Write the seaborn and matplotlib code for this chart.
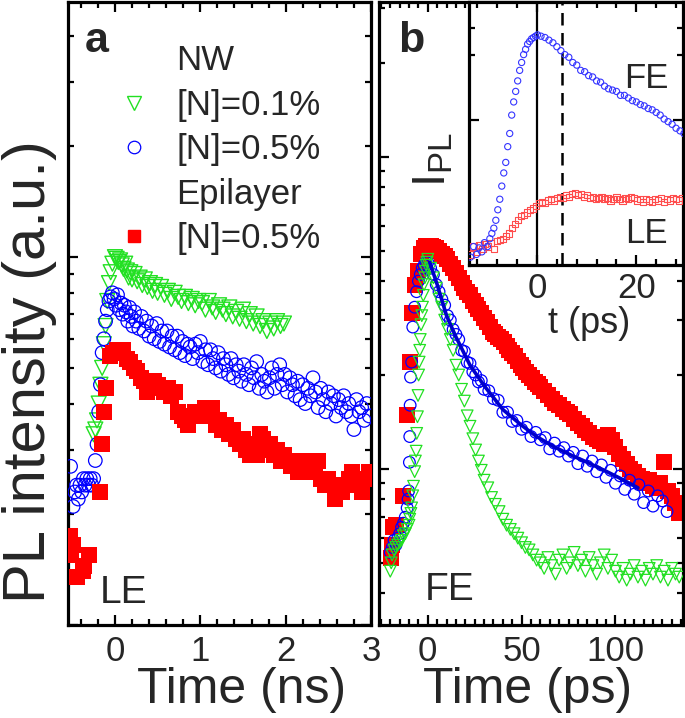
import numpy as np
import matplotlib
matplotlib.use('Agg')
import matplotlib.pyplot as plt
from matplotlib.lines import Line2D
from matplotlib.ticker import MultipleLocator, LogLocator, NullFormatter, FixedLocator
import seaborn as sns

# ---- panel a: time in ns ----
nw01_a_x = [-0.25, -0.23, -0.21, -0.19, -0.17, -0.15, -0.13, -0.11, -0.09, -0.07,
            -0.05, -0.03, 0.00, 0.02, 0.04, 0.06, 0.08, 0.10, 0.12, 0.14,
            0.16, 0.18, 0.20, 0.23, 0.26, 0.29, 0.32, 0.35, 0.38, 0.41,
            0.44, 0.47, 0.50, 0.54, 0.58, 0.62, 0.66, 0.70, 0.74, 0.78,
            0.82, 0.86, 0.90, 0.94, 0.98, 1.02, 1.06, 1.10, 1.14, 1.18,
            1.22, 1.26, 1.30, 1.34, 1.38, 1.42, 1.46, 1.50, 1.54, 1.58,
            1.62, 1.66, 1.70, 1.74, 1.78, 1.82, 1.86, 1.90, 1.94, 1.98]
nw01_a_y = [0.33, 0.34, 0.36, 0.40, 0.45, 0.50, 0.58, 0.65, 0.76, 0.85,
            0.91, 0.96, 1.00, 0.99, 0.97, 0.98, 0.95, 0.93, 0.96, 0.92,
            0.88, 0.91, 0.87, 0.90, 0.86, 0.88, 0.84, 0.87, 0.83, 0.85,
            0.81, 0.84, 0.80, 0.83, 0.79, 0.81, 0.77, 0.80, 0.78, 0.76,
            0.78, 0.75, 0.77, 0.74, 0.76, 0.75, 0.72, 0.76, 0.73, 0.71,
            0.74, 0.72, 0.70, 0.73, 0.69, 0.71, 0.68, 0.72, 0.67, 0.70,
            0.66, 0.69, 0.65, 0.67, 0.63, 0.66, 0.64, 0.67, 0.65, 0.66]

nw05_a_x = [-0.52, -0.49, -0.47, -0.45, -0.43, -0.41, -0.39, -0.37, -0.35, -0.33,
            -0.31, -0.29, -0.27, -0.25, -0.23, -0.21, -0.19, -0.17, -0.15, -0.13,
            -0.11, -0.09, -0.07, -0.05, -0.03, -0.01, 0.01, 0.03, 0.05, 0.07,
            0.09, 0.11, 0.13, 0.15, 0.17, 0.19, 0.21, 0.23, 0.25, 0.28,
            0.31, 0.34, 0.37, 0.40, 0.43, 0.46, 0.49, 0.52, 0.55, 0.58,
            0.61, 0.64, 0.67, 0.70, 0.73, 0.76, 0.79, 0.82, 0.85, 0.88,
            0.91, 0.94, 0.97, 1.00, 1.03, 1.06, 1.09, 1.12, 1.15, 1.18,
            1.21, 1.24, 1.27, 1.30, 1.33, 1.36, 1.39, 1.42, 1.45, 1.48,
            1.51, 1.54, 1.57, 1.60, 1.63, 1.66, 1.69, 1.72, 1.75, 1.78,
            1.81, 1.84, 1.87, 1.90, 1.93, 1.96, 1.99, 2.02, 2.05, 2.08,
            2.11, 2.14, 2.17, 2.20, 2.23, 2.26, 2.29, 2.32, 2.35, 2.38,
            2.41, 2.44, 2.47, 2.50, 2.53, 2.56, 2.59, 2.62, 2.65, 2.68,
            2.71, 2.74, 2.77, 2.80, 2.83, 2.86, 2.89, 2.92, 2.95, 2.98]
nw05_a_y = [0.27, 0.21, 0.23, 0.24, 0.22, 0.24, 0.23, 0.25, 0.24, 0.25,
            0.24, 0.25, 0.24, 0.25, 0.28, 0.31, 0.38, 0.45, 0.55, 0.60,
            0.67, 0.72, 0.76, 0.78, 0.80, 0.77, 0.74, 0.79, 0.72, 0.75,
            0.70, 0.74, 0.71, 0.67, 0.73, 0.69, 0.65, 0.71, 0.67, 0.64,
            0.69, 0.63, 0.67, 0.61, 0.65, 0.60, 0.66, 0.59, 0.63, 0.58,
            0.63, 0.57, 0.61, 0.56, 0.61, 0.55, 0.59, 0.54, 0.58, 0.57,
            0.53, 0.58, 0.55, 0.59, 0.52, 0.56, 0.51, 0.56, 0.53, 0.50,
            0.55, 0.49, 0.53, 0.51, 0.48, 0.53, 0.47, 0.51, 0.49, 0.46,
            0.51, 0.48, 0.45, 0.50, 0.47, 0.52, 0.44, 0.48, 0.46, 0.43,
            0.47, 0.50, 0.44, 0.48, 0.51, 0.45, 0.48, 0.43, 0.47, 0.45,
            0.42, 0.46, 0.41, 0.45, 0.40, 0.44, 0.42, 0.47, 0.43, 0.39,
            0.44, 0.41, 0.38, 0.43, 0.40, 0.42, 0.37, 0.41, 0.39, 0.42,
            0.38, 0.40, 0.37, 0.34, 0.41, 0.38, 0.39, 0.36, 0.40, 0.37]

epi_a_x = [-0.53, -0.49, -0.52, -0.44, -0.38, -0.36, -0.30, -0.18, -0.15, -0.13,
           -0.10, -0.06, -0.02, 0.02, 0.06, 0.10, 0.14, 0.18, 0.22, 0.26,
           0.30, 0.34, 0.38, 0.42, 0.46, 0.50, 0.54, 0.58, 0.62, 0.66,
           0.70, 0.74, 0.78, 0.82, 0.86, 0.90, 0.94, 0.98, 1.02, 1.06,
           1.10, 1.14, 1.18, 1.22, 1.26, 1.30, 1.34, 1.38, 1.42, 1.46,
           1.50, 1.54, 1.58, 1.62, 1.66, 1.70, 1.74, 1.78, 1.82, 1.86,
           1.90, 1.94, 1.98, 2.02, 2.06, 2.10, 2.14, 2.18, 2.22, 2.26,
           2.30, 2.34, 2.38, 2.42, 2.46, 2.50, 2.54, 2.58, 2.62, 2.66,
           2.70, 2.74, 2.78, 2.82, 2.86, 2.90, 2.94, 2.98]
epi_a_y = [0.175, 0.165, 0.155, 0.135, 0.14, 0.145, 0.155, 0.23, 0.31, 0.38,
           0.44, 0.54, 0.55, 0.56, 0.55, 0.56, 0.53, 0.52, 0.50, 0.49,
           0.47, 0.46, 0.43, 0.45, 0.46, 0.45, 0.44, 0.43, 0.44, 0.42,
           0.43, 0.38, 0.37, 0.36, 0.35, 0.37, 0.38, 0.37, 0.38, 0.39,
           0.37, 0.39, 0.35, 0.36, 0.34, 0.35, 0.33, 0.34, 0.32, 0.31,
           0.32, 0.30, 0.29, 0.31, 0.29, 0.33, 0.32, 0.30, 0.31, 0.29,
           0.30, 0.28, 0.29, 0.28, 0.27, 0.28, 0.26, 0.27, 0.26, 0.28,
           0.27, 0.26, 0.28, 0.25, 0.24, 0.25, 0.24, 0.22, 0.24, 0.23,
           0.24, 0.25, 0.26, 0.25, 0.24, 0.23, 0.25, 0.26]

# ---- panel b: time in ps ----
nw01_b_x = [-20, -19.5, -19, -18, -17, -16, -15, -14, -13, -12,
            -11, -10, -9.6, -9, -8.6, -8, -7.6, -7, -6.6, -6.2,
            -5.9, -5.5, -5.2, -4.9, -4.6, -4.3, -4.0, -3.6, -3.2, -2.8,
            -2.4, -2.0, -1.6, -1.2, -0.8, -0.4,
            0, 1.5, 3, 4.5, 6, 7.5, 9, 10.5, 12, 13.5,
            15, 16.5, 18, 19.5, 21, 22.5, 24, 25.5, 27, 28.5,
            30, 32, 34, 36, 38, 40, 42, 44, 46, 48,
            50, 52, 54, 56, 58, 60,
            62, 64, 66, 68, 70, 72, 74, 76, 78, 80,
            82, 84, 86, 88, 90, 92, 94, 96, 98, 100,
            102, 104, 106, 108, 110, 112, 114, 116, 118, 120,
            122, 124, 126, 128, 130, 132, 134]
nw01_b_y = [0.047, 0.050, 0.053, 0.055, 0.056, 0.057, 0.058, 0.059, 0.061, 0.062,
            0.064, 0.066, 0.069, 0.072, 0.075, 0.082, 0.088, 0.098, 0.106, 0.114,
            0.130, 0.147, 0.172, 0.20, 0.22, 0.24, 0.26, 0.29, 0.31, 0.33,
            0.36, 0.39, 0.41, 0.43, 0.45, 0.46,
            0.47, 0.44, 0.41, 0.38, 0.35, 0.33, 0.30, 0.28, 0.26, 0.24,
            0.215, 0.20, 0.18, 0.165, 0.148, 0.137, 0.125, 0.115, 0.106, 0.099,
            0.092, 0.087, 0.081, 0.077, 0.073, 0.069, 0.066, 0.064, 0.062, 0.060,
            0.058, 0.056, 0.055, 0.053, 0.051, 0.050,
            0.048, 0.052, 0.049, 0.046, 0.051, 0.053, 0.048, 0.050, 0.054, 0.049,
            0.051, 0.047, 0.052, 0.049, 0.046, 0.050, 0.053, 0.048, 0.051, 0.047,
            0.045, 0.048, 0.044, 0.046, 0.049, 0.045, 0.047, 0.044, 0.048, 0.046,
            0.049, 0.045, 0.047, 0.044, 0.048, 0.046, 0.045]

nw05_b_x = [-20, -19, -18, -17, -16, -15, -14, -13, -12, -11,
            -10.5, -10.2, -9.8, -9.6, -9.4, -9.2, -8.6, -8, -7, -6,
            -5, -4, -3, -2, -1,
            0, 1.5, 3, 4.5, 6, 7.5, 9, 10.5, 12, 13.5,
            15, 16.5, 18, 19.5, 21, 22.5, 24, 25.5, 27, 28.5,
            30, 32.5, 35, 37.5, 40, 42.5, 45, 47.5, 50, 52.5,
            55, 57.5, 60, 62.5, 65, 67.5, 70, 72.5, 75, 77.5,
            80, 82.5, 85, 87.5, 90, 92.5, 95, 97.5, 100, 102.5,
            105, 107.5, 110, 112.5, 115, 117.5, 120, 122.5, 125, 127.5]
nw05_b_y = [0.054, 0.056, 0.059, 0.057, 0.060, 0.062, 0.065, 0.067, 0.070, 0.075,
            0.080, 0.085, 0.105, 0.127, 0.160, 0.197, 0.22, 0.285, 0.33, 0.37,
            0.40, 0.42, 0.44, 0.45, 0.46,
            0.46, 0.44, 0.42, 0.39, 0.37, 0.35, 0.335, 0.31, 0.30, 0.28,
            0.27, 0.26, 0.24, 0.238, 0.22, 0.218, 0.205, 0.20, 0.19, 0.192,
            0.18, 0.178, 0.168, 0.166, 0.152, 0.152, 0.142, 0.143, 0.134, 0.136,
            0.127, 0.131, 0.124, 0.126, 0.116, 0.121, 0.114, 0.117, 0.110, 0.113,
            0.104, 0.110, 0.102, 0.106, 0.098, 0.103, 0.094, 0.099, 0.090, 0.095,
            0.086, 0.092, 0.083, 0.089, 0.078, 0.085, 0.076, 0.082, 0.079, 0.073]

fit_b_x = [1, 5, 10, 15, 22.5, 30, 40, 50, 58, 67, 76, 85, 94, 103, 112]
fit_b_y = [0.46, 0.39, 0.31, 0.265, 0.215, 0.185, 0.155, 0.138, 0.127, 0.118,
           0.111, 0.105, 0.099, 0.093, 0.087]

epi_b_x = [-19.4, -19.0, -18.4, -16.8, -13.4, -11.2, -9.6, -8.6, -7.0, -5.3,
           -3.5, -2.0, -1, 0, 1.5, 3, 4.5, 6, 7.5, 9,
           10.5, 12, 13.5, 15, 16.5, 18, 19.5, 21, 22.5, 24,
           25.5, 27, 28.5, 30, 31.5, 33, 34.5, 36, 37.5, 39,
           40.5, 42, 43.5, 45, 46.5, 48, 49.5, 51, 52.5, 54,
           55.5, 57, 58.5, 60, 62, 64, 66, 68, 70, 72,
           74, 76, 78, 80, 82, 84, 86, 88, 90, 92,
           94, 96, 98, 100, 102, 104, 106, 108, 110, 112,
           114, 116, 118, 120, 122, 124, 126, 128, 130, 132, 134]
epi_b_y = [0.052, 0.057, 0.065, 0.066, 0.082, 0.149, 0.22, 0.316, 0.39, 0.43,
           0.49, 0.51, 0.52, 0.52, 0.52, 0.515, 0.51, 0.50, 0.49, 0.48,
           0.47, 0.455, 0.44, 0.425, 0.41, 0.395, 0.38, 0.37, 0.36, 0.345,
           0.335, 0.325, 0.315, 0.305, 0.295, 0.285, 0.275, 0.27, 0.265, 0.26,
           0.255, 0.248, 0.24, 0.235, 0.23, 0.222, 0.215, 0.21, 0.205, 0.20,
           0.195, 0.19, 0.187, 0.183, 0.178, 0.173, 0.168, 0.163, 0.16, 0.156,
           0.152, 0.15, 0.145, 0.14, 0.137, 0.133, 0.13, 0.127, 0.125, 0.123,
           0.12, 0.128, 0.124, 0.118, 0.112, 0.108, 0.104, 0.10, 0.098, 0.095,
           0.093, 0.09, 0.092, 0.088, 0.087, 0.09, 0.105, 0.085, 0.082, 0.078, 0.072]

# ---- inset: normalised intensity vs t (ps) ----
fe_in_x = [-13.4, -12.8, -12.2, -11.7, -11.1, -10.6, -10.0, -9.5, -9.1, -8.7,
           -8.3, -7.9, -7.5, -7.1, -6.7, -6.3, -5.9, -5.5, -5.1, -4.7,
           -4.3, -3.9, -3.5, -3.1, -2.7, -2.3, -1.9, -1.5, -1.1, -0.7,
           -0.3, 0.1,
           0.8, 1.6, 2.4, 3.2, 4.0, 4.8, 5.6, 6.4, 7.2, 8.0,
           8.8, 9.6, 10.4, 11.2, 12.0, 12.8, 13.6, 14.4, 15.2, 16.0,
           16.8, 17.6, 18.4, 19.2, 20.0, 20.8, 21.6, 22.4, 23.2, 24.0,
           24.8, 25.6, 26.4, 27.2, 28.0, 28.8, 29.6]
fe_in_y = [0.03, 0.07, 0.04, 0.065, 0.05, 0.085, 0.07, 0.10, 0.12, 0.14,
           0.17, 0.21, 0.25, 0.30, 0.35, 0.39, 0.45, 0.50, 0.57, 0.62,
           0.66, 0.70, 0.74, 0.77, 0.80, 0.82, 0.84, 0.85, 0.86, 0.865,
           0.87, 0.875,
           0.87, 0.865, 0.855, 0.845, 0.83, 0.815, 0.80, 0.79, 0.77, 0.76,
           0.74, 0.735, 0.72, 0.715, 0.70, 0.695, 0.68, 0.67, 0.665, 0.66,
           0.645, 0.645, 0.635, 0.625, 0.62, 0.61, 0.605, 0.595, 0.59, 0.58,
           0.57, 0.555, 0.545, 0.535, 0.52, 0.51, 0.50]

le_in_x = [-13.4, -12.8, -12.2, -11.6, -11.0, -10.4, -9.8, -9.2, -8.6, -8.0,
           -7.4, -6.8, -6.2, -5.6, -5.0, -4.4, -3.8, -3.2, -2.6, -2.0,
           -1.4, -0.8, -0.2, 0.4, 1.0, 1.6, 2.2, 2.8, 3.4, 4.0,
           4.6, 5.2, 5.8, 6.4, 7.0, 7.6, 8.2, 8.8, 9.4, 10.0,
           10.6, 11.2, 11.8, 12.4, 13.0, 13.6, 14.2, 14.8, 15.4, 16.0,
           16.6, 17.2, 17.8, 18.4, 19.0, 19.6, 20.2, 20.8, 21.4, 22.0,
           22.6, 23.2, 23.8, 24.4, 25.0, 25.6, 26.2, 26.8, 27.4, 28.0, 28.6, 29.2]
le_in_y = [0.04, 0.07, 0.05, 0.075, 0.06, 0.08, 0.07, 0.085, 0.06, 0.09,
           0.095, 0.10, 0.11, 0.12, 0.14, 0.155, 0.17, 0.185, 0.19, 0.20,
           0.21, 0.215, 0.225, 0.235, 0.24, 0.235, 0.245, 0.25, 0.245, 0.255,
           0.26, 0.255, 0.265, 0.26, 0.27, 0.275, 0.265, 0.27, 0.26, 0.265,
           0.255, 0.26, 0.25, 0.255, 0.26, 0.25, 0.255, 0.245, 0.25, 0.26,
           0.25, 0.245, 0.255, 0.25, 0.26, 0.255, 0.245, 0.25, 0.24, 0.25,
           0.245, 0.24, 0.25, 0.245, 0.255, 0.24, 0.25, 0.245, 0.255, 0.25, 0.245, 0.255]

GREEN = '#22e022'
BLUE = '#0000ff'
RED = '#ff0000'

sns.set_style('ticks')
plt.rcParams['font.family'] = ['Liberation Sans', 'DejaVu Sans']
plt.rcParams['mathtext.fontset'] = 'custom'
plt.rcParams['mathtext.rm'] = 'Liberation Sans'

W, H = 685, 718
fig = plt.figure(figsize=(W / 100, H / 100), dpi=100)
ax_a = fig.add_axes([68 / W, 93 / H, 303 / W, 623 / H])
ax_b = fig.add_axes([379 / W, 93 / H, 304 / W, 623 / H])
ax_in = fig.add_axes([469 / W, 453 / H, 214 / W, 263 / H])


def style_axes(ax, tick_size=25):
    for sp in ax.spines.values():
        sp.set_linewidth(2.3)
        sp.set_color('black')
    ax.tick_params(which='both', direction='in', top=True, right=True,
                   width=1.6, color='black', labelsize=tick_size, pad=7)
    ax.tick_params(which='major', length=7)
    ax.tick_params(which='minor', length=4)


# panel a
sns.scatterplot(x=nw01_a_x, y=nw01_a_y, ax=ax_a, marker='v', s=115,
                facecolor='none', edgecolor=GREEN, linewidth=1.0, zorder=3)
sns.scatterplot(x=nw05_a_x, y=nw05_a_y, ax=ax_a, marker='o', s=95,
                facecolor='none', edgecolor=BLUE, linewidth=0.9, zorder=3)
sns.scatterplot(x=epi_a_x, y=epi_a_y, ax=ax_a, marker='s', s=125,
                color=RED, edgecolor=RED, linewidth=0, zorder=4)
ax_a.set_yscale('log')
ax_a.set_xlim(-0.55, 3.0)
ax_a.set_ylim(0.1, 4.94)
ax_a.xaxis.set_major_locator(FixedLocator([0, 1, 2, 3]))
ax_a.xaxis.set_minor_locator(MultipleLocator(0.2))
ax_a.yaxis.set_major_locator(LogLocator(base=10))
ax_a.yaxis.set_minor_locator(LogLocator(base=10, subs=np.arange(2, 10)))
ax_a.yaxis.set_major_formatter(NullFormatter())
ax_a.yaxis.set_minor_formatter(NullFormatter())
style_axes(ax_a)
ax_a.set_xlabel('Time (ns)', fontsize=36)
ax_a.xaxis.set_label_coords(0.574, -0.068)
ax_a.set_ylabel('PL intensity (a.u.)', fontsize=43)
ax_a.yaxis.set_label_coords(-0.035, 0.406)
ax_a.text(0.056, 0.92, 'a', transform=ax_a.transAxes, fontsize=31,
          fontweight='bold', va='baseline')
ax_a.text(0.106, 0.035, 'LE', transform=ax_a.transAxes, fontsize=28, va='baseline')

handles = [Line2D([], [], linestyle='none'),
           Line2D([], [], linestyle='none', marker='v', markersize=10,
                  markerfacecolor='none', markeredgecolor=GREEN, markeredgewidth=1.0),
           Line2D([], [], linestyle='none', marker='o', markersize=9,
                  markerfacecolor='none', markeredgecolor=BLUE, markeredgewidth=0.9),
           Line2D([], [], linestyle='none'),
           Line2D([], [], linestyle='none', marker='s', markersize=9,
                  markerfacecolor=RED, markeredgecolor=RED)]
labels = ['NW', '[N]=0.1%', '[N]=0.5%', 'Epilayer', '[N]=0.5%']
ax_a.legend(handles, labels, loc='upper left', bbox_to_anchor=(0.16, 0.932),
            frameon=False, fontsize=25, handlelength=1.0, handletextpad=0.72,
            labelspacing=0.33, borderpad=0, borderaxespad=0)

# panel b
sns.scatterplot(x=epi_b_x, y=epi_b_y, ax=ax_b, marker='s', s=130,
                color=RED, edgecolor=RED, linewidth=0, zorder=2)
sns.scatterplot(x=nw05_b_x, y=nw05_b_y, ax=ax_b, marker='o', s=70,
                facecolor='none', edgecolor=BLUE, linewidth=0.9, zorder=3)
sns.scatterplot(x=nw01_b_x, y=nw01_b_y, ax=ax_b, marker='v', s=70,
                facecolor='none', edgecolor=GREEN, linewidth=0.9, zorder=4)
sns.lineplot(x=fit_b_x, y=fit_b_y, ax=ax_b, color='#0000cc', linewidth=2.6,
             zorder=5, estimator=None)
ax_b.set_yscale('log')
ax_b.set_xlim(-26, 136)
ax_b.set_ylim(0.0316, 3.14)
ax_b.xaxis.set_major_locator(FixedLocator([0, 50, 100]))
ax_b.xaxis.set_minor_locator(MultipleLocator(5))
ax_b.yaxis.set_major_locator(LogLocator(base=10))
ax_b.yaxis.set_minor_locator(LogLocator(base=10, subs=np.arange(2, 10)))
ax_b.yaxis.set_major_formatter(NullFormatter())
ax_b.yaxis.set_minor_formatter(NullFormatter())
style_axes(ax_b)
ax_b.set_xlabel('Time (ps)', fontsize=36)
ax_b.xaxis.set_label_coords(0.49, -0.068)
ax_b.set_ylabel('')
ax_b.text(0.0625, 0.92, 'b', transform=ax_b.transAxes, fontsize=31,
          fontweight='bold', va='baseline')
ax_b.text(0.151, 0.04, 'FE', transform=ax_b.transAxes, fontsize=28, va='baseline')

# inset
ax_in.set_facecolor('white')
sns.scatterplot(x=le_in_x, y=le_in_y, ax=ax_in, marker='s', s=20,
                facecolor='none', edgecolor='#ff4d4d', linewidth=0.8, zorder=3)
sns.scatterplot(x=fe_in_x, y=fe_in_y, ax=ax_in, marker='o', s=20,
                facecolor='none', edgecolor='#3535ff', linewidth=0.8, zorder=3)
ax_in.axvline(0, color='black', linewidth=1.6, zorder=2)
ax_in.axvline(5, color='black', linewidth=1.8, linestyle=(0, (5, 3)), zorder=2)
ax_in.set_xlim(-13.7, 29.4)
ax_in.set_ylim(0, 1)
ax_in.xaxis.set_major_locator(FixedLocator([0, 20]))
ax_in.xaxis.set_minor_locator(MultipleLocator(4))
ax_in.yaxis.set_major_locator(FixedLocator([0.55]))
ax_in.yaxis.set_minor_locator(FixedLocator([0.8, 0.9]))
ax_in.yaxis.set_major_formatter(NullFormatter())
style_axes(ax_in, tick_size=25)
ax_in.tick_params(axis='x', pad=5)
ax_in.set_xlabel('t (ps)', fontsize=26)
ax_in.xaxis.set_label_coords(0.56, -0.155)
ax_in.set_ylabel(r'I$_{\mathregular{PL}}$', fontsize=34)
ax_in.yaxis.set_label_coords(-0.065, 0.40)
ax_in.text(0.93, 0.673, 'FE', transform=ax_in.transAxes, fontsize=25,
           ha='right', va='baseline')
ax_in.text(0.93, 0.084, 'LE', transform=ax_in.transAxes, fontsize=25,
           ha='right', va='baseline')

fig.savefig('out.png', dpi=100)
